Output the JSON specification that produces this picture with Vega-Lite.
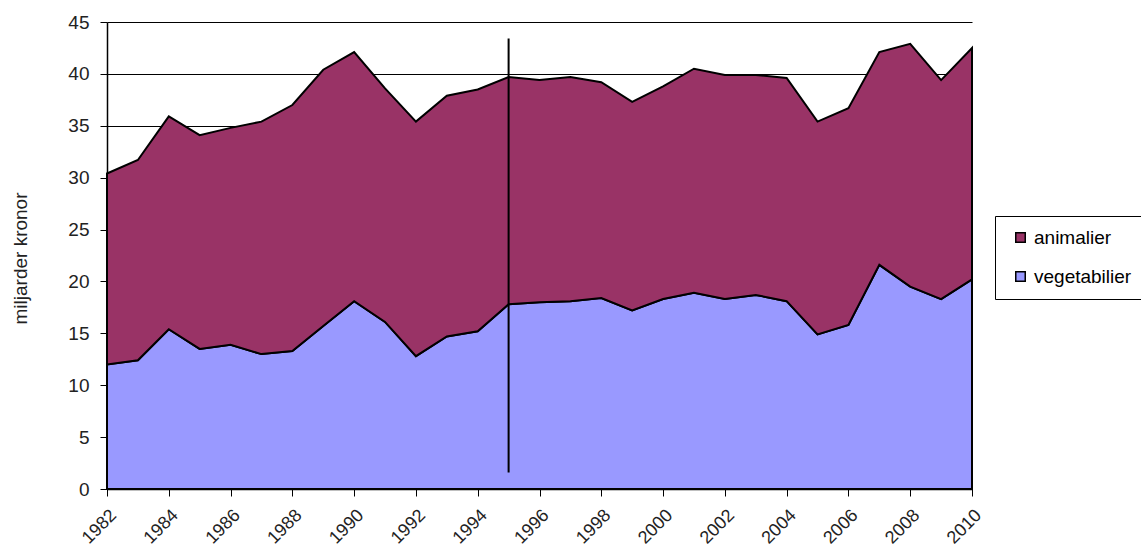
{
  "$schema": "https://vega.github.io/schema/vega-lite/v6.json",
  "width": 865,
  "height": 467,
  "autosize": {"type": "none"},
  "padding": {"left": 107, "top": 22, "right": 169, "bottom": 61},
  "background": "white",
  "config": {
    "view": {"stroke": null},
    "font": "Liberation Sans",
    "axis": {"labelFont": "Liberation Sans", "titleFont": "Liberation Sans", "labelColor": "#222222", "titleColor": "#222222"}
  },
  "datasets": {
    "main": [
      {"year": 1982, "serie": "vegetabilier", "value": 12.0}, {"year": 1982, "serie": "animalier", "value": 18.4},
      {"year": 1983, "serie": "vegetabilier", "value": 12.4}, {"year": 1983, "serie": "animalier", "value": 19.3},
      {"year": 1984, "serie": "vegetabilier", "value": 15.4}, {"year": 1984, "serie": "animalier", "value": 20.5},
      {"year": 1985, "serie": "vegetabilier", "value": 13.5}, {"year": 1985, "serie": "animalier", "value": 20.6},
      {"year": 1986, "serie": "vegetabilier", "value": 13.9}, {"year": 1986, "serie": "animalier", "value": 20.9},
      {"year": 1987, "serie": "vegetabilier", "value": 13.0}, {"year": 1987, "serie": "animalier", "value": 22.4},
      {"year": 1988, "serie": "vegetabilier", "value": 13.3}, {"year": 1988, "serie": "animalier", "value": 23.7},
      {"year": 1989, "serie": "vegetabilier", "value": 15.7}, {"year": 1989, "serie": "animalier", "value": 24.7},
      {"year": 1990, "serie": "vegetabilier", "value": 18.1}, {"year": 1990, "serie": "animalier", "value": 24.0},
      {"year": 1991, "serie": "vegetabilier", "value": 16.1}, {"year": 1991, "serie": "animalier", "value": 22.5},
      {"year": 1992, "serie": "vegetabilier", "value": 12.8}, {"year": 1992, "serie": "animalier", "value": 22.6},
      {"year": 1993, "serie": "vegetabilier", "value": 14.7}, {"year": 1993, "serie": "animalier", "value": 23.2},
      {"year": 1994, "serie": "vegetabilier", "value": 15.2}, {"year": 1994, "serie": "animalier", "value": 23.3},
      {"year": 1995, "serie": "vegetabilier", "value": 17.8}, {"year": 1995, "serie": "animalier", "value": 21.9},
      {"year": 1996, "serie": "vegetabilier", "value": 18.0}, {"year": 1996, "serie": "animalier", "value": 21.4},
      {"year": 1997, "serie": "vegetabilier", "value": 18.1}, {"year": 1997, "serie": "animalier", "value": 21.6},
      {"year": 1998, "serie": "vegetabilier", "value": 18.4}, {"year": 1998, "serie": "animalier", "value": 20.8},
      {"year": 1999, "serie": "vegetabilier", "value": 17.2}, {"year": 1999, "serie": "animalier", "value": 20.1},
      {"year": 2000, "serie": "vegetabilier", "value": 18.3}, {"year": 2000, "serie": "animalier", "value": 20.5},
      {"year": 2001, "serie": "vegetabilier", "value": 18.9}, {"year": 2001, "serie": "animalier", "value": 21.6},
      {"year": 2002, "serie": "vegetabilier", "value": 18.3}, {"year": 2002, "serie": "animalier", "value": 21.6},
      {"year": 2003, "serie": "vegetabilier", "value": 18.7}, {"year": 2003, "serie": "animalier", "value": 21.2},
      {"year": 2004, "serie": "vegetabilier", "value": 18.1}, {"year": 2004, "serie": "animalier", "value": 21.5},
      {"year": 2005, "serie": "vegetabilier", "value": 14.9}, {"year": 2005, "serie": "animalier", "value": 20.5},
      {"year": 2006, "serie": "vegetabilier", "value": 15.8}, {"year": 2006, "serie": "animalier", "value": 20.9},
      {"year": 2007, "serie": "vegetabilier", "value": 21.6}, {"year": 2007, "serie": "animalier", "value": 20.5},
      {"year": 2008, "serie": "vegetabilier", "value": 19.5}, {"year": 2008, "serie": "animalier", "value": 23.4},
      {"year": 2009, "serie": "vegetabilier", "value": 18.3}, {"year": 2009, "serie": "animalier", "value": 21.1},
      {"year": 2010, "serie": "vegetabilier", "value": 20.2}, {"year": 2010, "serie": "animalier", "value": 22.3}
    ],
    "marker": [
      {"year": 1995, "low": 1.6, "high": 43.4}
    ]
  },
  "layer": [
    {
      "data": {"name": "main"},
      "mark": {"type": "area", "stroke": "black", "strokeWidth": 2, "strokeJoin": "miter", "interpolate": "linear"},
      "encoding": {
        "x": {
          "field": "year", "type": "quantitative",
          "scale": {"domain": [1982, 2010], "nice": false, "zero": false},
          "axis": {
            "title": null,
            "values": [1982,1983,1984,1985,1986,1987,1988,1989,1990,1991,1992,1993,1994,1995,1996,1997,1998,1999,2000,2001,2002,2003,2004,2005,2006,2007,2008,2009,2010],
            "labelExpr": "datum.value % 2 == 0 ? '' + datum.value : ''",
            "labelOverlap": false,
            "labelFontSize": 18,
            "labelAngle": -45,
            "labelAlign": "right",
            "labelBaseline": "top",
            "labelPadding": 10,
            "labelDx": 5,
            "tickSize": 7,
            "tickColor": "black",
            "domainColor": "black",
            "domainWidth": 1.5,
            "grid": false
          }
        },
        "y": {
          "field": "value", "type": "quantitative", "stack": "zero",
          "scale": {"domain": [0, 45], "nice": false},
          "axis": {
            "title": "miljarder kronor",
            "titleFontSize": 19,
            "titleFontWeight": "normal",
            "titleX": -87,
            "titleY": 236,
            "titleBaseline": "middle",
            "titleAlign": "center",
            "values": [0,5,10,15,20,25,30,35,40,45],
            "labelFontSize": 19,
            "labelPadding": 11,
            "tickSize": 7,
            "tickColor": "black",
            "domainColor": "black",
            "domainWidth": 1.5,
            "grid": true,
            "gridColor": "black",
            "gridWidth": 1
          }
        },
        "color": {
          "field": "serie", "type": "nominal",
          "scale": {"domain": ["animalier", "vegetabilier"], "range": ["#993366", "#9999FF"]},
          "legend": {
            "title": null,
            "orient": "none",
            "legendX": 888,
            "legendY": 194,
            "strokeColor": "black",
            "fillColor": "white",
            "padding": 12,
            "symbolOffset": 4,
            "symbolType": "square",
            "symbolSize": 90,
            "symbolStrokeColor": "black",
            "symbolStrokeWidth": 1.5,
            "labelFontSize": 19,
            "labelFont": "Liberation Sans",
            "labelColor": "black",
            "labelOffset": 4,
            "rowPadding": 19
          }
        },
        "order": {"field": "serie", "sort": "descending"}
      }
    },
    {
      "data": {"name": "marker"},
      "mark": {"type": "rule", "color": "black", "strokeWidth": 2},
      "encoding": {
        "x": {"field": "year", "type": "quantitative"},
        "y": {"field": "low", "type": "quantitative"},
        "y2": {"field": "high"}
      }
    }
  ]
}
